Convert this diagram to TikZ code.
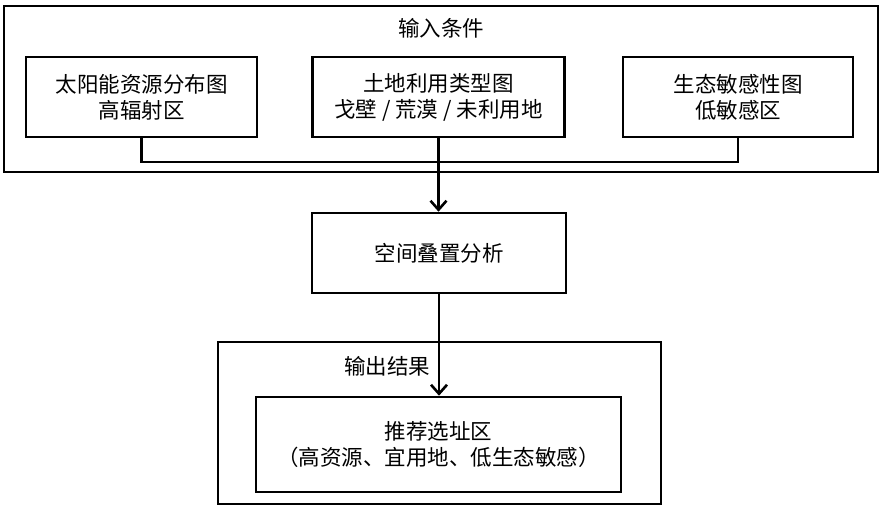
\documentclass[tikz,border=0pt]{standalone}
\usepackage{fontspec}
\setmainfont{Noto Sans CJK SC}
\usetikzlibrary{arrows.meta}

\begin{document}
\begin{tikzpicture}[x=1pt,y=-1pt,line width=2.6pt,
  box/.style={draw,rectangle,inner sep=0pt,align=center,font=\fontsize{21.5}{26}\selectfont},
  txt/.style={inner sep=0pt,font=\fontsize{21.5}{26}\selectfont},
  >={Straight Barb[length=9pt,width=16pt,line width=2.6pt]}]
\useasboundingbox (0,0) rectangle (882,507);
\node[box,minimum width=874,minimum height=166] (input) at (441,89) {};
\node[txt] (intitle) at (441,28) {输入条件};
\node[box,minimum width=231,minimum height=80] (solar) at (141.5,97) {太阳能资源分布图\\高辐射区};
\node[box,minimum width=252,minimum height=80] (land) at (438.5,97) {土地利用类型图\\戈壁 / 荒漠 / 未利用地};
\node[box,minimum width=230,minimum height=80] (eco) at (738,97) {生态敏感性图\\低敏感区};
\coordinate (bus) at (438.5,162);
\node[box,minimum width=254,minimum height=80] (analysis) at (439,253) {空间叠置分析};
\node[box,minimum width=443,minimum height=162] (output) at (439.5,423) {};
\node[txt] (outtitle) at (387,366) {输出结果};
\node[box,minimum width=365,minimum height=95] (result) at (438.5,444.5) {推荐选址区\\（高资源、宜用地、低生态敏感）};
\draw (solar.south) |- (bus);
\draw (eco.south) |- (bus);
\draw[->] (land.south) -- (land.south |- analysis.north);
\draw[->] (analysis.south) -- (analysis.south |- result.north);
\end{tikzpicture}
\end{document}
